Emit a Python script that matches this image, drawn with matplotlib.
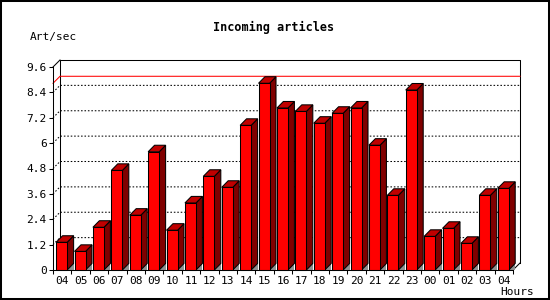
import matplotlib
matplotlib.use('Agg')
import matplotlib.pyplot as plt
from matplotlib.patches import Polygon, Rectangle

# ---- data ----
hours = ['04', '05', '06', '07', '08', '09', '10', '11', '12', '13', '14', '15',
         '16', '17', '18', '19', '20', '21', '22', '23', '00', '01', '02', '03', '04']
values = [1.31, 0.88, 2.02, 4.71, 2.59, 5.59, 1.88, 3.17, 4.43, 3.91, 6.84, 8.83,
          7.66, 7.50, 6.94, 7.41, 7.66, 5.90, 3.53, 8.51, 1.59, 1.97, 1.26, 3.53, 3.86]
yticks = [0, 1.2, 2.4, 3.6, 4.8, 6, 7.2, 8.4, 9.6]
ytick_labels = ['0', '1.2', '2.4', '3.6', '4.8', '6', '7.2', '8.4', '9.6']
title = 'Incoming articles'
ylabel = 'Art/sec'
xlabel = 'Hours'

MONO = 'DejaVu Sans Mono'
FRONT = '#ff0000'
TOP = '#c00000'
SIDE = '#800000'
SHADOW = '#909090'
LW = 0.75

fig = plt.figure(figsize=(5.5, 3), dpi=100)
ax = fig.add_axes([53 / 550, 30 / 300, 460 / 550, 203 / 300])
n = len(values)
ymax = yticks[-1]
ax.set_xlim(0, n)
ax.set_ylim(0, ymax)
for s in ax.spines.values():
    s.set_visible(False)
ax.patch.set_visible(False)

# depth offsets (in data units)
BX, BY = 7 / 18.4, 7 / 21.15     # back plane offset
DX, DY = 0.35, 0.31              # bar depth

# back plane frame
ax.plot([BX, BX, n + BX, n + BX], [BY, ymax + BY, ymax + BY, BY],
        color='black', lw=LW, clip_on=False, zorder=1)
ax.plot([0, BX], [ymax, ymax + BY], color='black', lw=LW, clip_on=False, zorder=1)
ax.plot([n, n + BX], [0, BY], color='black', lw=LW, clip_on=False, zorder=1)

# dotted grid on back plane
for v in yticks[1:-1]:
    ax.plot([0, BX, n + BX], [v, v + BY, v + BY], color='black', lw=LW,
            linestyle=(0, (1.5, 1.8)), clip_on=False, zorder=1)

# max line
m = max(values)
ax.plot([0, BX, n + BX], [m, m + BY, m + BY], color='red', lw=LW,
        clip_on=False, zorder=1.5)

# bars
off, w = 0.17, 0.6
for i, v in enumerate(values):
    x0 = i + off
    x1 = x0 + w
    ax.add_patch(Polygon([(x1, 0), (x1 + DX, 0), (x1 + DX, DY)], closed=True,
                         facecolor=SHADOW, edgecolor='none', zorder=2, clip_on=False))
    ax.add_patch(Polygon([(x1, 0), (x1 + DX, DY), (x1 + DX, v + DY), (x1, v)], closed=True,
                         facecolor=SIDE, edgecolor='black', lw=LW, zorder=3, clip_on=False))
    ax.add_patch(Polygon([(x0, v), (x0 + DX, v + DY), (x1 + DX, v + DY), (x1, v)], closed=True,
                         facecolor=TOP, edgecolor='black', lw=LW, zorder=3, clip_on=False))
ax.bar([i + off for i in range(n)], values, width=w, align='edge',
       color=FRONT, edgecolor='black', linewidth=LW, zorder=4, clip_on=False)

# front axes
ax.plot([0, 0], [0, ymax], color='black', lw=LW, clip_on=False, zorder=5)
ax.plot([0, n], [0, 0], color='black', lw=LW, clip_on=False, zorder=5)

# ticks
ax.set_yticks(yticks)
ax.set_yticklabels(ytick_labels, family=MONO, fontsize=8)
ax.tick_params(axis='y', length=3, width=LW, pad=1.5)
ax.set_xticks(range(n + 1))
ax.set_xticklabels([])
ax.tick_params(axis='x', which='major', length=3, width=LW)
ax.set_xticks([i + 0.5 for i in range(n)], minor=True)
ax.set_xticklabels(hours, minor=True, family=MONO, fontsize=8)
ax.tick_params(axis='x', which='minor', length=0, pad=4)

# texts
fig.text(274 / 550, 1 - 27 / 300, title, ha='center', va='center',
         family=MONO, weight='bold', fontsize=8.5)
fig.text(30 / 550, 1 - 37 / 300, ylabel, ha='left', va='center', family=MONO, fontsize=8)
fig.text(534 / 550, 1 - 292 / 300, xlabel, ha='right', va='center', family=MONO, fontsize=8)

# outer border
fig.add_artist(Rectangle((0, 0), 1, 1, transform=fig.transFigure, fill=False,
                         edgecolor='black', lw=2.9))

fig.savefig('out.png', dpi=100)
